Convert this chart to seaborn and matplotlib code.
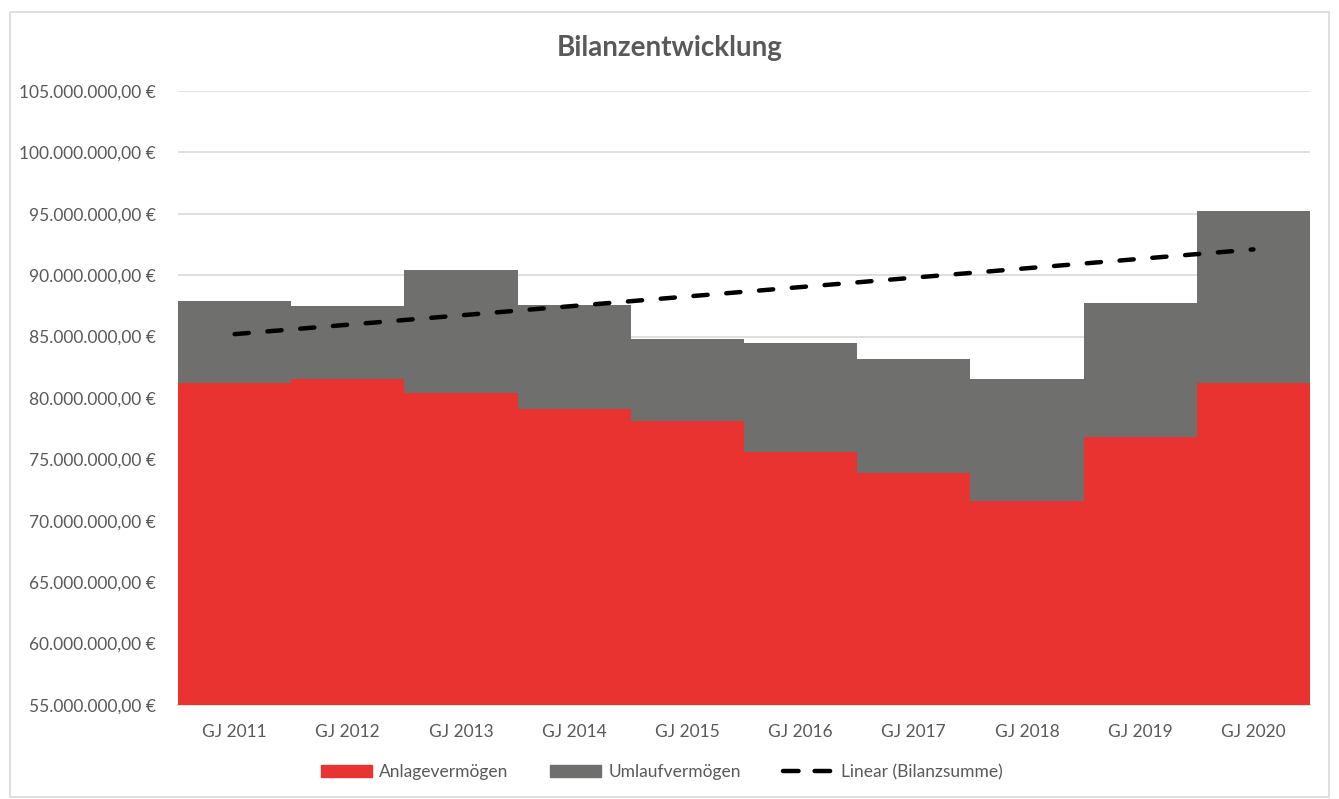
import pandas as pd
import numpy as np
import matplotlib.pyplot as plt
import matplotlib.patches as mpatches
from matplotlib.lines import Line2D
from matplotlib.ticker import FuncFormatter
import seaborn as sns

# values in Mio. EUR
jahre = ['GJ 2011', 'GJ 2012', 'GJ 2013', 'GJ 2014', 'GJ 2015',
         'GJ 2016', 'GJ 2017', 'GJ 2018', 'GJ 2019', 'GJ 2020']
anlage = [81.22, 81.55, 80.41, 79.10, 78.13, 75.60, 73.89, 71.61, 76.82, 81.20]
bilanzsumme = [87.90, 87.49, 90.42, 87.57, 84.80, 84.48, 83.18, 81.55, 87.74, 95.23]
trend_ends = [85.2, 92.1]  # Linear (Bilanzsumme) at GJ 2011 and GJ 2020

data = pd.DataFrame({'Jahr': jahre,
                     'Anlage': np.array(anlage) * 1e6,
                     'Summe': np.array(bilanzsumme) * 1e6})

sns.set_theme(style='white')
plt.rcParams['font.family'] = ['Lato', 'DejaVu Sans']

rot = '#E83331'
grau = '#6F6F6D'
txt = '#595959'

fig = plt.figure(figsize=(13.39, 7.99), dpi=100)
ax = fig.add_axes([178 / 1339, 1 - 705 / 799, (1310 - 178) / 1339, (705 - 91) / 799])

# stacked look: total in gray, Anlagevermögen drawn over it
sns.barplot(data=data, x='Jahr', y='Summe', color=grau, width=1.0,
            saturation=1, linewidth=0, ax=ax, zorder=2)
sns.barplot(data=data, x='Jahr', y='Anlage', color=rot, width=1.0,
            saturation=1, linewidth=0, ax=ax, zorder=3)

ax.plot([0, len(jahre) - 1], np.array(trend_ends) * 1e6, color='black', lw=3.2,
        ls=(0, (3.2, 4.2)), dash_capstyle='round', zorder=4)

ax.set_ylim(55e6, 105e6)
ax.set_xlim(-0.5, len(jahre) - 0.5)
ax.set_yticks(np.arange(55e6, 105e6 + 1, 5e6))
ax.yaxis.set_major_formatter(FuncFormatter(
    lambda v, p: f'{v:,.2f} €'.replace(',', 'X').replace('.', ',').replace('X', '.')))
ax.grid(axis='y', color='#d9d9d9', lw=1.2, zorder=0)
ax.set_axisbelow(True)
for s in ['top', 'right', 'left']:
    ax.spines[s].set_visible(False)
ax.spines['bottom'].set_color('#d9d9d9')
ax.spines['bottom'].set_linewidth(1.2)
ax.tick_params(axis='both', length=0, colors=txt, labelsize=12.5)
ax.tick_params(axis='x', pad=14)
ax.tick_params(axis='y', pad=16)
ax.set_xlabel('')
ax.set_ylabel('')

fig.text(0.5, 1 - 48 / 799, 'Bilanzentwicklung', ha='center', va='center',
         fontsize=20, fontweight='bold', color=txt)

handles = [mpatches.Patch(color=rot, label='Anlagevermögen'),
           mpatches.Patch(color=grau, label='Umlaufvermögen'),
           Line2D([0], [0], color='black', lw=3.2, ls=(0, (3.5, 3.6)),
                  dash_capstyle='round', label='Linear (Bilanzsumme)')]
fig.legend(handles=handles, loc='center', bbox_to_anchor=(662 / 1339, 1 - 772 / 799),
           ncol=3, frameon=False, fontsize=12.5, labelcolor=txt,
           handlelength=2.9, handleheight=0.75, columnspacing=2.4, handletextpad=0.45)

fig.add_artist(mpatches.Rectangle((10 / 1339, 2 / 799), 1319 / 1339, 785 / 799,
                                  transform=fig.transFigure, fill=False,
                                  edgecolor='#d9d9d9', lw=1.2))

plt.savefig('out.png', dpi=100)
